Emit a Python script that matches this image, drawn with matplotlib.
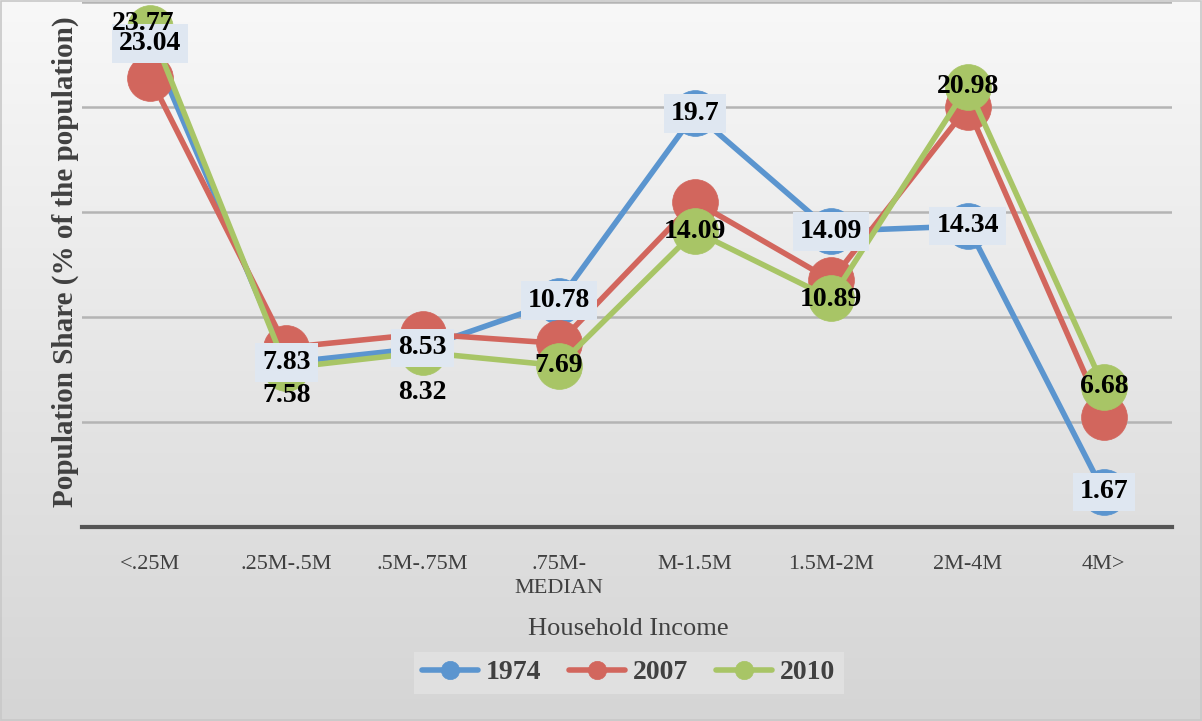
import numpy as np
import matplotlib
matplotlib.use('Agg')
import matplotlib.pyplot as plt

plt.rcParams['font.family'] = ['Liberation Serif', 'DejaVu Serif']

# 数据
categories = ['<.25M', '.25M-.5M', '.5M-.75M', '.75M-\nMEDIAN', 'M-1.5M', '1.5M-2M', '2M-4M', '4M>']
years = ['1974', '2007', '2010']
share_1974 = [23.04, 7.83, 8.53, 10.78, 19.7, 14.09, 14.34, 1.67]
share_2007 = [21.4, 8.55, 9.2, 8.75, 15.5, 11.75, 20.0, 5.25]
share_2010 = [23.77, 7.58, 8.32, 7.69, 14.09, 10.89, 20.98, 6.68]

colors = ['#5B95CF', '#D2665D', '#A8C566']
# 2010 标签的偏移 (points)
off_2010 = [(-5, 3), (0, -20), (0, -29), (0, 0), (0, 0), (0, -1), (0, 0), (0, 0)]

fig = plt.figure(figsize=(12.02, 7.21), dpi=100)

# 背景渐变
bg = fig.add_axes([0, 0, 1, 1], zorder=-10)
grad = np.linspace(0, 1, 256).reshape(-1, 1)
bg.imshow(grad, aspect='auto', cmap=matplotlib.colors.LinearSegmentedColormap.from_list(
    'g', ['#f8f8f8', '#d5d5d5']), extent=[0, 1, 0, 1], origin='upper')
bg.set_xlim(0, 1)
bg.set_ylim(0, 1)
bg.axis('off')
bg.add_patch(plt.Rectangle((0.001, 0.001), 0.998, 0.997, fill=False, ec='#c8c8c8', lw=1.2))

ax = fig.add_axes([0.0682, 0.269, 0.9068, 0.728])
ax.patch.set_alpha(0)
x = np.arange(len(categories))
series = [share_1974, share_2007, share_2010]
for i, (vals, c, lab) in enumerate(zip(series, colors, years)):
    ax.plot(x, vals, color=c, lw=4, marker='o', ms=33, mec=c, mew=0.5,
            solid_capstyle='round', label=lab, zorder=3 + i * 0.1)

for xi, v in zip(x, share_1974):
    ax.annotate(f'{v:g}', (xi, v), ha='center', va='center', fontsize=20, fontweight='bold',
                bbox=dict(boxstyle='square,pad=0.25', fc='#dfe7f1', ec='none'), zorder=5)
for xi, v, (dx, dy) in zip(x, share_2010, off_2010):
    ax.annotate(f'{v:g}', (xi, v), xytext=(dx, dy), textcoords='offset points',
                ha='center', va='center', fontsize=20, fontweight='bold', zorder=6)

ax.set_xlim(-0.5, len(categories) - 0.5)
ax.set_ylim(0, 25)
ax.set_yticks([5, 10, 15, 20, 25])
ax.yaxis.grid(True, color='#b4b4b4', lw=1.8)
ax.set_axisbelow(True)
ax.tick_params(axis='y', left=False, labelleft=False)
ax.tick_params(axis='x', length=0, pad=20, labelsize=16, labelcolor='#404040')
ax.set_xticks(x)
ax.set_xticklabels(categories, linespacing=1.35)
for s in ['top', 'right', 'left']:
    ax.spines[s].set_visible(False)
ax.spines['bottom'].set_color('#555555')
ax.spines['bottom'].set_linewidth(3)

fig.text(0.054, 0.637, 'Population Share (% of the population)', rotation=90, ha='center', va='center',
         fontsize=21, fontweight='bold', color='#404040')
fig.text(0.523, 0.128, 'Household Income', ha='center', va='center', fontsize=19, color='#404040')

leg = fig.legend(loc='center', bbox_to_anchor=(0.523, 0.067), ncol=3, frameon=True, fancybox=False,
                 prop={'size': 20, 'weight': 'bold'}, markerscale=0.4, handlelength=2.0,
                 columnspacing=1.0, handletextpad=0.3, borderpad=0.3)
leg.get_frame().set_facecolor('#e3e3e3')
leg.get_frame().set_edgecolor('none')
for t in leg.get_texts():
    t.set_color('#404040')

fig.savefig('out.png', dpi=100)
